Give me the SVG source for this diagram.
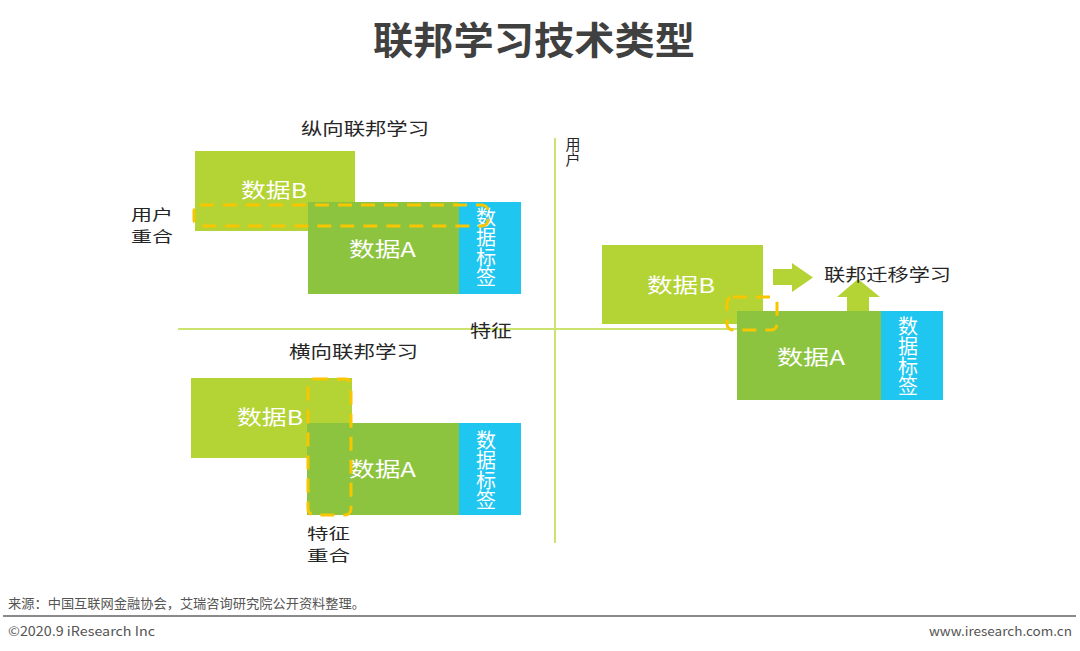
<svg xmlns="http://www.w3.org/2000/svg" width="1080" height="651" viewBox="0 0 1080 651">
  <style>
    text { font-family: "Noto Sans CJK SC", "Noto Sans", sans-serif; }
    .title { font-size: 38px; font-weight: bold; fill: #404040; }
    .lbl { font-size: 17px; fill: #262626; }
    .lbl2 { font-size: 15px; fill: #262626; }
    .box-text { font-size: 20px; fill: #ffffff; }
    .vt { font-size: 20px; fill: #ffffff; text-anchor: middle; writing-mode: vertical-rl; }
    .vlbl { font-size: 15px; fill: #262626; text-anchor: middle; writing-mode: vertical-rl; }
    .boxB { fill: #b4d334; }
    .boxA { fill: #8cc43f; }
    .tag { fill: #1fc6f0; }
    .dash { fill: none; stroke: #f7c600; stroke-width: 3; stroke-dasharray: 14 9; }
    .axis { stroke: #cde36f; stroke-width: 2; fill: none; }
    .arrow { fill: #b4d334; }
    .foot { font-size: 13px; fill: #555555; }
  </style>

  <text class="title" x="373" y="54" textLength="322" lengthAdjust="spacingAndGlyphs">联邦学习技术类型</text>

  <g id="connectors">
    <line class="axis" x1="178" y1="329" x2="737" y2="329"/>
    <line class="axis" x1="555" y1="138" x2="555" y2="543"/>
    <polygon id="arrow-right" class="arrow" points="773,269 792,269 792,263 813,277.5 792,292 792,285 773,285"/>
    <polygon id="arrow-up" class="arrow" points="847,311 847,297 837,297 858,279 880,297 869,297 869,311"/>
  </g>

  <g id="axis-labels">
    <text class="lbl" x="470" y="337" textLength="42" lengthAdjust="spacingAndGlyphs">特征</text>
    <text class="vlbl" x="573" y="152">用户</text>
  </g>

  <g id="vertical-fl">
    <text class="lbl" x="301" y="135" textLength="128" lengthAdjust="spacingAndGlyphs">纵向联邦学习</text>
    <rect class="boxB" x="195" y="151" width="160" height="80"/>
    <text class="box-text" x="241" y="198" textLength="66" lengthAdjust="spacingAndGlyphs">数据B</text>
    <rect class="boxA" x="308" y="202" width="151" height="92"/>
    <text class="box-text" x="349" y="257" textLength="67" lengthAdjust="spacingAndGlyphs">数据A</text>
    <rect class="tag" x="459" y="202" width="62" height="92"/>
    <text class="vt" x="486" y="247">数据标签</text>
    <rect class="dash" x="194" y="205" width="294" height="21" rx="6"/>
    <text class="lbl2" x="131" y="220" textLength="42" lengthAdjust="spacingAndGlyphs">用户</text>
    <text class="lbl2" x="131" y="242" textLength="42" lengthAdjust="spacingAndGlyphs">重合</text>
  </g>

  <g id="horizontal-fl">
    <text class="lbl" x="289" y="358" textLength="129" lengthAdjust="spacingAndGlyphs">横向联邦学习</text>
    <rect class="boxB" x="191" y="378" width="161" height="80"/>
    <text class="box-text" x="237" y="425" textLength="66" lengthAdjust="spacingAndGlyphs">数据B</text>
    <rect class="boxA" x="307" y="423" width="152" height="92"/>
    <text class="box-text" x="349" y="477" textLength="67" lengthAdjust="spacingAndGlyphs">数据A</text>
    <rect class="tag" x="459" y="423" width="62" height="92"/>
    <text class="vt" x="486" y="470">数据标签</text>
    <rect class="dash" x="308" y="379" width="43" height="136" rx="6"/>
    <text class="lbl2" x="307" y="539" textLength="43" lengthAdjust="spacingAndGlyphs">特征</text>
    <text class="lbl2" x="307" y="561" textLength="43" lengthAdjust="spacingAndGlyphs">重合</text>
  </g>

  <g id="transfer-fl">
    <rect class="boxB" x="602" y="245" width="161" height="79"/>
    <text class="box-text" x="647" y="293" textLength="68" lengthAdjust="spacingAndGlyphs">数据B</text>
    <rect class="boxA" x="737" y="311" width="144" height="89"/>
    <text class="box-text" x="777" y="365" textLength="68" lengthAdjust="spacingAndGlyphs">数据A</text>
    <rect class="tag" x="881" y="311" width="62" height="89"/>
    <text class="vt" x="908" y="356">数据标签</text>
    <rect class="dash" x="727" y="297" width="50" height="33" rx="6"/>
    <text class="lbl" x="824" y="281" textLength="127" lengthAdjust="spacingAndGlyphs">联邦迁移学习</text>
  </g>

  <g id="footer">
    <text class="foot" x="8" y="608" textLength="357" lengthAdjust="spacingAndGlyphs">来源：中国互联网金融协会，艾瑞咨询研究院公开资料整理。</text>
    <line x1="3" y1="616" x2="1076" y2="616" stroke="#8a8a8a" stroke-width="2"/>
    <text class="foot" x="8" y="636" textLength="147" lengthAdjust="spacingAndGlyphs">©2020.9 iResearch Inc</text>
    <text class="foot" x="929" y="636" textLength="143" lengthAdjust="spacingAndGlyphs">www.iresearch.com.cn</text>
  </g>
</svg>
